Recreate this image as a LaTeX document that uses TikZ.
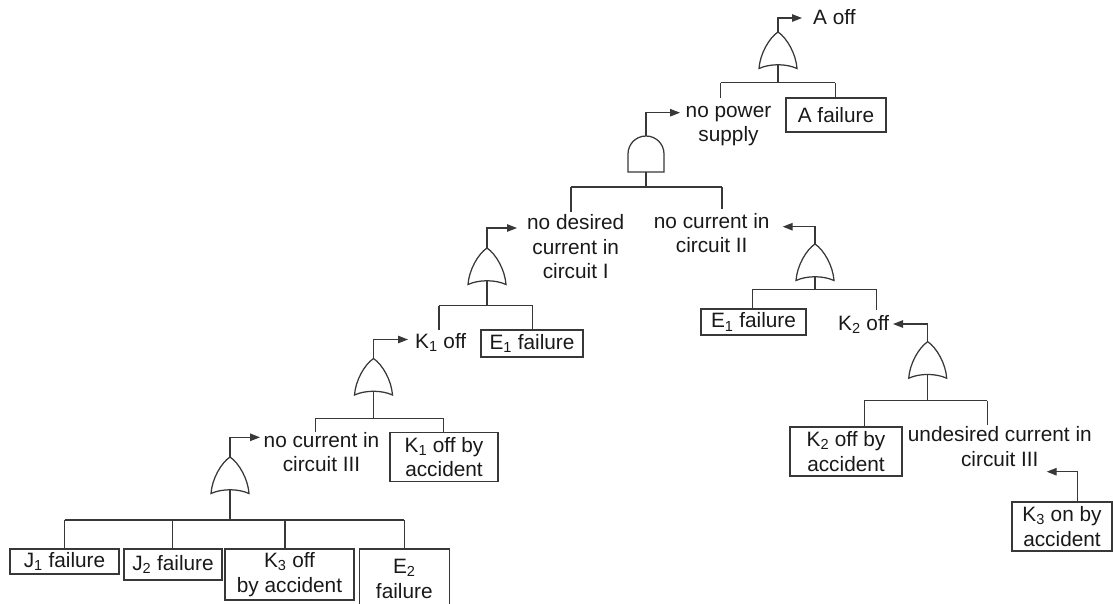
\documentclass[tikz,border=0pt]{standalone}
\usepackage{fontspec}
\setmainfont{Liberation Sans}
\usetikzlibrary{arrows.meta}
\newcommand{\myfs}{\fontsize{20.8}{24.5}\selectfont}
\tikzset{
  ln/.style={draw=black!78, line width=1.25pt},
  arr/.style={ln, -{Triangle[length=10pt,width=7.5pt]}},
  bx/.style={draw=black!78, line width=1.25pt, align=center, inner sep=0pt, font=\myfs, text=black!90},
  txt/.style={align=center, inner sep=0pt, font=\myfs, text=black!90},
  orgate/.pic={\draw[ln, line join=miter] (0,0) .. controls (-9,6) and (-18,22) .. (-19,36.5)
      .. controls (-8,31.5) and (8,31.5) .. (19,36.5)
      .. controls (18,22) and (9,6) .. (0,0) -- cycle;},
  andgate/.pic={\draw[ln] (-18,0) -- (-18,-18) .. controls (-18,-28) and (-10,-36) .. (0,-36)
      .. controls (10,-36) and (18,-28) .. (18,-18) -- (18,0) -- cycle;}
}
\begin{document}
\begin{tikzpicture}[x=1pt,y=-1pt]
\useasboundingbox (0,0) rectangle (1113,603);

% ---------- text and boxes (multi-line nodes: base = last line) ----------
\node[txt, anchor=base west] (aoff) at (813,24) {A off};
\node[bx, minimum width=100pt, minimum height=34pt] (afail) at (836,115) {A failure};
\node[txt, anchor=base] (nops) at (728.5,141.5) {no power\\supply};
\node[txt, anchor=base] (ndc) at (575.7,278.5) {no desired\\current in\\circuit I};
\node[txt, anchor=base] (nc2) at (711.7,252.5) {no current in\\circuit II};
\node[txt, anchor=base west] (k1off) at (415,348.3) {K\textsubscript{1} off};
\node[bx, minimum width=102pt, minimum height=27pt] (e1a) at (532,343.5) {E\textsubscript{1} failure};
\node[txt, anchor=base] (nc3) at (321.5,471.5) {no current in\\circuit III};
\node[bx, minimum width=108pt, minimum height=49pt] (k1acc) at (444,457) {K\textsubscript{1} off by\\accident};
\node[bx, minimum width=109pt, minimum height=25pt] (j1) at (64.5,561.5) {J\textsubscript{1} failure};
\node[bx, minimum width=98pt, minimum height=31pt] (j2) at (173,564.5) {J\textsubscript{2} failure};
\node[bx, minimum width=129pt, minimum height=51pt] (k3off) at (289.5,574.5) {K\textsubscript{3} off\\by accident};
\node[bx, minimum width=90pt, minimum height=60pt] (e2) at (404.3,579) {E\textsubscript{2}\\failure};
\node[bx, minimum width=105pt, minimum height=26pt] (e1b) at (753.5,322) {E\textsubscript{1} failure};
\node[txt, anchor=base west] (k2off) at (838,330.7) {K\textsubscript{2} off};
\node[bx, minimum width=112pt, minimum height=49pt] (k2acc) at (846,451.5) {K\textsubscript{2} off by\\accident};
\node[txt, anchor=base] (udc) at (999.8,466) {undesired current in\\circuit III};
\node[bx, minimum width=100pt, minimum height=49pt] (k3on) at (1062,526.5) {K\textsubscript{3} on by\\accident};

% ---------- gates ----------
\coordinate (g1) at (778,32);     \pic at (g1) {orgate};
\coordinate (ga) at (646,172);    \pic at (ga) {andgate};
\coordinate (g2) at (487,248);    \pic at (g2) {orgate};
\coordinate (g3) at (373.5,358.5);\pic at (g3) {orgate};
\coordinate (g4) at (230,457);    \pic at (g4) {orgate};
\coordinate (g5) at (815,244);    \pic at (g5) {orgate};
\coordinate (g6) at (927.7,341.7);\pic at (g6) {orgate};

% ---------- output arrows ----------
\coordinate (t1) at (802,18);
\draw[arr] (g1) |- (t1);
\coordinate (gat) at (646,136);
\coordinate (ta) at (680,112.7);
\draw[arr] (gat) |- (ta);
\coordinate (t2) at (517,228);
\draw[arr] (g2) |- (t2);
\coordinate (t3) at (408,339.5);
\draw[arr] (g3) |- (t3);
\coordinate (t4) at (260,437.3);
\draw[arr] (g4) |- (t4);
\coordinate (t5) at (782.7,226.7);
\draw[arr] (g5) |- (t5);
\coordinate (t6) at (893,324);
\draw[arr] (g6) |- (t6);
\coordinate (k3s) at (1077.7,501.7);
\coordinate (t7) at (1046.7,471.7);
\draw[arr] (k3s) |- (t7);

% ---------- input trees ----------
% A off
\coordinate (g1b) at (778,64.3);
\coordinate (l1) at (720.7,82.7); \coordinate (r1) at (835.3,82.7);
\coordinate (d1) at (720.7,98);
\draw[ln] (g1b) -- (g1b |- l1);
\draw[ln] (l1) -- (r1);
\draw[ln] (l1) -- (d1);
\draw[ln] (r1) -- (r1 |- afail.north);
% no power supply (AND)
\coordinate (la) at (571,187); \coordinate (ra) at (722,187);
\coordinate (dla) at (571,211.7); \coordinate (dra) at (722,209);
\draw[ln] (ga) -- (ga |- la);
\draw[ln] (la) -- (ra);
\draw[ln] (la) -- (dla);
\draw[ln] (ra) -- (dra);
% no desired current in circuit I
\coordinate (g2b) at (487,280.5);
\coordinate (l2) at (439,305.7); \coordinate (r2) at (532.7,305.7);
\coordinate (d2) at (439,330);
\draw[ln] (g2b) -- (g2b |- l2);
\draw[ln] (l2) -- (r2);
\draw[ln] (l2) -- (d2);
\draw[ln] (r2) -- (r2 |- e1a.north);
% K1 off
\coordinate (g3b) at (373.5,391);
\coordinate (l3) at (315.7,418.3); \coordinate (r3) at (443.5,418.3);
\coordinate (d3) at (315.7,431.7);
\draw[ln] (g3b) -- (g3b |- l3);
\draw[ln] (l3) -- (r3);
\draw[ln] (l3) -- (d3);
\draw[ln] (r3) -- (r3 |- k1acc.north);
% no current in circuit III
\coordinate (g4b) at (230,489.5);
\coordinate (l4) at (64.5,520); \coordinate (r4) at (404.3,520);
\coordinate (m4a) at (172.5,520); \coordinate (m4b) at (285,520);
\draw[ln] (g4b) -- (g4b |- l4);
\draw[ln] (l4) -- (r4);
\draw[ln] (l4) -- (l4 |- j1.north);
\draw[ln] (m4a) -- (m4a |- j2.north);
\draw[ln] (m4b) -- (m4b |- k3off.north);
\draw[ln] (r4) -- (r4 |- e2.north);
% no current in circuit II
\coordinate (g5b) at (815,276.5);
\coordinate (l5) at (752.3,289.3); \coordinate (r5) at (876.7,289.3);
\coordinate (d5) at (876.7,310);
\draw[ln] (g5b) -- (g5b |- l5);
\draw[ln] (l5) -- (r5);
\draw[ln] (l5) -- (l5 |- e1b.north);
\draw[ln] (r5) -- (d5);
% K2 off
\coordinate (g6b) at (927.7,374);
\coordinate (l6) at (864.3,400.7); \coordinate (r6) at (987.3,400.7);
\coordinate (d6) at (987.3,425);
\draw[ln] (g6b) -- (g6b |- l6);
\draw[ln] (l6) -- (r6);
\draw[ln] (l6) -- (l6 |- k2acc.north);
\draw[ln] (r6) -- (d6);
\end{tikzpicture}
\end{document}
